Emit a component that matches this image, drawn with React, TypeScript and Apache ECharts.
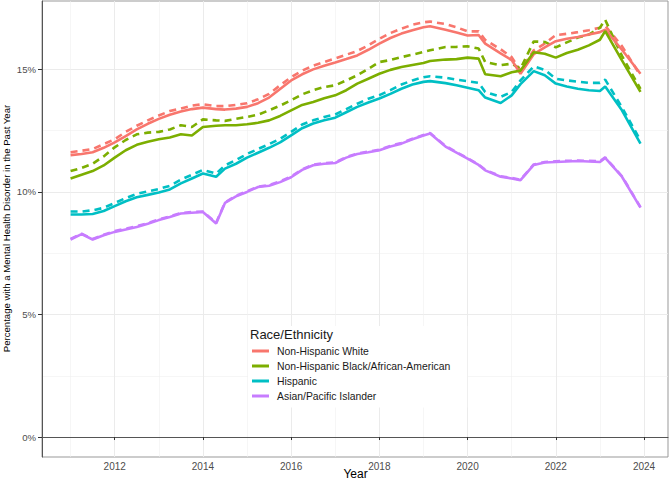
import React, { useEffect, useRef } from "react";
import * as echarts from "echarts";

const years = [
  2011, 2011.25, 2011.5, 2011.75,
  2012, 2012.25, 2012.5, 2012.75,
  2013, 2013.25, 2013.5, 2013.75,
  2014, 2014.3, 2014.5, 2014.75,
  2015, 2015.25, 2015.5, 2015.75,
  2016, 2016.25, 2016.5, 2016.75,
  2017, 2017.25, 2017.5, 2017.75,
  2018, 2018.25, 2018.5, 2018.75,
  2019, 2019.15, 2019.5, 2019.75,
  2020, 2020.25, 2020.4, 2020.75,
  2021, 2021.2, 2021.5, 2021.75,
  2022, 2022.25, 2022.5, 2022.75,
  2023, 2023.12, 2023.5, 2023.92,
];

const whiteSolid = [
  11.5, 11.55, 11.62, 11.8,
  12.02, 12.28, 12.55, 12.78,
  12.98, 13.15, 13.28, 13.38,
  13.44, 13.38, 13.36, 13.4,
  13.47, 13.62, 13.85, 14.2,
  14.55, 14.8, 15.0, 15.15,
  15.28, 15.42, 15.57, 15.8,
  16.05, 16.28, 16.46, 16.6,
  16.72, 16.76, 16.62, 16.5,
  16.38, 16.4, 16.05, 15.65,
  15.38, 14.82, 15.62, 15.9,
  16.15, 16.25, 16.32, 16.42,
  16.52, 16.62, 15.8, 14.82,
];
const whiteDashed = [
  11.62, 11.68, 11.75, 11.95,
  12.15, 12.45, 12.7, 12.92,
  13.12, 13.3, 13.4, 13.52,
  13.58, 13.5, 13.5, 13.55,
  13.62, 13.78, 14.0, 14.35,
  14.68, 14.95, 15.15, 15.3,
  15.45, 15.6, 15.75, 15.98,
  16.25, 16.48, 16.66, 16.82,
  16.92, 16.95, 16.85, 16.72,
  16.55, 16.55, 16.2, 15.82,
  15.5, 14.95, 15.78, 16.05,
  16.4, 16.45, 16.52, 16.6,
  16.7, 16.78, 15.95, 14.75,
];
const blackSolid = [
  10.55, 10.7, 10.85, 11.08,
  11.4, 11.7, 11.92, 12.05,
  12.15, 12.22, 12.35, 12.3,
  12.65, 12.7, 12.72, 12.72,
  12.76, 12.82, 12.92, 13.1,
  13.33, 13.55, 13.67, 13.82,
  13.94, 14.15, 14.42, 14.62,
  14.82, 14.98, 15.1, 15.18,
  15.26, 15.34, 15.4, 15.42,
  15.48, 15.44, 14.8, 14.72,
  14.88, 14.95, 15.7, 15.64,
  15.48, 15.67, 15.8, 15.98,
  16.21, 16.56, 15.37, 14.08,
];
const blackDashed = [
  10.85, 10.98, 11.15, 11.45,
  11.82, 12.12, 12.35, 12.42,
  12.45, 12.55, 12.72, 12.65,
  12.96, 12.92, 12.9, 12.98,
  13.06, 13.15, 13.33, 13.52,
  13.74, 13.98, 14.15, 14.28,
  14.35, 14.55, 14.76, 15.02,
  15.3, 15.38, 15.5, 15.6,
  15.71, 15.78, 15.91, 15.92,
  15.94, 15.85, 15.3, 15.17,
  15.23, 15.03, 16.14, 16.12,
  15.9, 16.1, 16.3, 16.42,
  16.7, 17.02, 15.55, 14.2,
];
const hispanicSolid = [
  9.08, 9.08, 9.1, 9.22,
  9.42, 9.62, 9.78, 9.88,
  9.98, 10.1, 10.35, 10.55,
  10.75, 10.62, 10.95, 11.15,
  11.4, 11.6, 11.8, 12.02,
  12.31, 12.6, 12.79, 12.92,
  13.03, 13.25, 13.47, 13.65,
  13.81, 14.0, 14.21, 14.38,
  14.49, 14.52, 14.44, 14.35,
  14.25, 14.15, 13.85, 13.63,
  13.94, 14.4, 14.93, 14.76,
  14.42, 14.3, 14.21, 14.15,
  14.12, 14.3, 13.33, 11.97,
];
const hispanicDashed = [
  9.2, 9.2, 9.25, 9.35,
  9.55, 9.75, 9.92, 10.02,
  10.12, 10.25, 10.5, 10.7,
  10.9, 10.75, 11.08, 11.3,
  11.55, 11.75, 11.95, 12.17,
  12.45, 12.75, 12.92, 13.06,
  13.16, 13.38, 13.6, 13.8,
  13.95, 14.15, 14.38, 14.55,
  14.68, 14.72, 14.66, 14.58,
  14.52, 14.45, 14.08, 13.88,
  14.08, 14.55, 15.12, 14.98,
  14.62, 14.55, 14.5, 14.45,
  14.45, 14.58, 13.45, 12.1,
];
const asianSolid = [
  8.06, 8.28, 8.06, 8.23,
  8.37, 8.47, 8.57, 8.7,
  8.85, 8.98, 9.12, 9.15,
  9.18, 8.71, 9.55, 9.82,
  10.0, 10.2, 10.25, 10.4,
  10.6, 10.9, 11.09, 11.15,
  11.18, 11.4, 11.55, 11.62,
  11.7, 11.85, 11.97, 12.15,
  12.3, 12.38, 11.85, 11.6,
  11.36, 11.1, 10.88, 10.62,
  10.55, 10.48, 11.1, 11.2,
  11.22, 11.24, 11.26, 11.24,
  11.22, 11.39, 10.62, 9.36,
];
const asianDashed = [
  8.08, 8.3, 8.08, 8.25,
  8.4, 8.5, 8.6, 8.73,
  8.88, 9.0, 9.14, 9.18,
  9.2, 8.74, 9.57, 9.84,
  10.03, 10.22, 10.28, 10.43,
  10.63, 10.92, 11.11, 11.18,
  11.2, 11.42, 11.57, 11.65,
  11.72, 11.88, 12.0, 12.17,
  12.32, 12.4, 11.88, 11.62,
  11.38, 11.12, 10.9, 10.64,
  10.57, 10.5, 11.12, 11.22,
  11.25, 11.27, 11.28, 11.27,
  11.25, 11.41, 10.64, 9.38,
];

const groups = [
  "Non-Hispanic White",
  "Non-Hispanic Black/African-American",
  "Hispanic",
  "Asian/Pacific Islander",
];
const colors = ["#F8766D", "#7CAE00", "#00BFC4", "#C77CFF"];
const solidValues = [whiteSolid, blackSolid, hispanicSolid, asianSolid];
const dashedValues = [whiteDashed, blackDashed, hispanicDashed, asianDashed];

const majorYears = [2012, 2014, 2016, 2018, 2020, 2022, 2024];
const minorYears = [2011, 2013, 2015, 2017, 2019, 2021, 2023];
const majorPct = [0, 5, 10, 15];
const minorPct = [2.5, 7.5, 12.5];

const xTitle = "Year";
const yTitle = "Percentage with a Mental Health Disorder in the Past Year";

const X_MIN = 2010.352;
const X_MAX = 2024.544;
const Y_MIN = -0.815;
const Y_MAX = 17.79;
const FONT = "Liberation Sans, Arial, Helvetica, sans-serif";

export default function App() {
  const ref = useRef<HTMLDivElement>(null);
  useEffect(() => {
    if (!ref.current) return;
    const chart = echarts.init(ref.current, null, { renderer: "svg" });
    const toData = (vals: number[]) => years.map((y, i) => [y, vals[i]]);
    const series: any[] = [];
    groups.forEach((g, i) => {
      series.push({
        name: g + " (dashed)",
        type: "line",
        data: toData(dashedValues[i]),
        showSymbol: false,
        symbol: "none",
        smooth: false,
        lineStyle: { color: colors[i], width: 2.6, type: [7, 5] },
        itemStyle: { color: colors[i] },
        z: 2,
      });
    });
    groups.forEach((g, i) => {
      series.push({
        name: g,
        type: "line",
        data: toData(solidValues[i]),
        showSymbol: false,
        symbol: "none",
        smooth: false,
        lineStyle: { color: colors[i], width: 2.6 },
        itemStyle: { color: colors[i] },
        z: 3,
      });
    });

    chart.setOption({
      animation: false,
      backgroundColor: "#ffffff",
      textStyle: { fontFamily: FONT },
      grid: {
        left: 42,
        right: 1,
        top: 1,
        bottom: 22,
        containLabel: false,
        outerBoundsMode: "none",
        show: true,
        borderColor: "#999999",
        borderWidth: 1,
        backgroundColor: "transparent",
      },
      graphic: [
        {
          type: "text",
          x: 355.5,
          y: 473.5,
          style: {
            text: xTitle,
            fontFamily: FONT,
            fontSize: 12,
            fill: "#000000",
            align: "center",
            verticalAlign: "middle",
          },
        },
        {
          type: "text",
          x: 6,
          y: 228.5,
          rotation: Math.PI / 2,
          style: {
            text: yTitle,
            fontFamily: FONT,
            fontSize: 9.6,
            fill: "#000000",
            align: "center",
            verticalAlign: "middle",
          },
        },
      ],
      title: {
        text: "Race/Ethnicity",
        left: 250,
        top: 328,
        padding: 0,
        z: 10,
        textStyle: {
          fontFamily: FONT,
          fontSize: 13,
          fontWeight: "normal",
          color: "#1a1a1a",
        },
      },
      legend: {
        data: groups,
        orient: "vertical",
        left: 248,
        top: 326,
        padding: [19.5, 17, 6, 4],
        itemWidth: 17,
        itemHeight: 3,
        itemGap: 4,
        icon: "rect",
        backgroundColor: "#ffffff",
        selectedMode: false,
        textStyle: {
          fontFamily: FONT,
          fontSize: 10.4,
          color: "#1a1a1a",
          padding: [0, 0, 0, 3],
          lineHeight: 11,
        },
      },
      xAxis: [
        {
          type: "value",
          min: X_MIN,
          max: X_MAX,
          position: "bottom",
          axisLine: { show: true, lineStyle: { color: "#555555", width: 1 } },
          axisTick: {
            show: true,
            length: 3,
            customValues: majorYears,
            lineStyle: { color: "#333333" },
          },
          axisLabel: {
            customValues: majorYears,
            margin: 4,
            fontFamily: FONT,
            fontSize: 10,
            color: "#4d4d4d",
            formatter: (v: number) => String(Math.round(v)),
          },
          splitLine: { show: true, lineStyle: { color: "#ebebeb", width: 1 } },
        },
        {
          type: "value",
          min: X_MIN,
          max: X_MAX,
          position: "bottom",
          axisLine: { show: false },
          axisTick: { show: false, customValues: minorYears },
          axisLabel: { show: false },
          splitLine: { show: true, lineStyle: { color: "#f0f0f0", width: 0.6 } },
        },
      ],
      yAxis: [
        {
          type: "value",
          min: Y_MIN,
          max: Y_MAX,
          position: "left",
          axisLine: { show: true, lineStyle: { color: "#555555", width: 1 } },
          axisTick: {
            show: true,
            length: 4,
            customValues: majorPct,
            lineStyle: { color: "#333333" },
          },
          axisLabel: {
            customValues: majorPct,
            margin: 6,
            fontFamily: FONT,
            fontSize: 9.6,
            color: "#4d4d4d",
            formatter: (v: number) => Math.round(v) + "%",
          },
          splitLine: { show: true, lineStyle: { color: "#ebebeb", width: 1 } },
        },
        {
          type: "value",
          min: Y_MIN,
          max: Y_MAX,
          position: "left",
          axisLine: { show: false },
          axisTick: { show: false, customValues: minorPct },
          axisLabel: { show: false },
          splitLine: { show: true, lineStyle: { color: "#f0f0f0", width: 0.6 } },
        },
      ],
      series,
    });
    return () => chart.dispose();
  }, []);
  return <div ref={ref} style={{ width: 669, height: 479, position: "absolute", left: 0, top: 0 }} />;
}
